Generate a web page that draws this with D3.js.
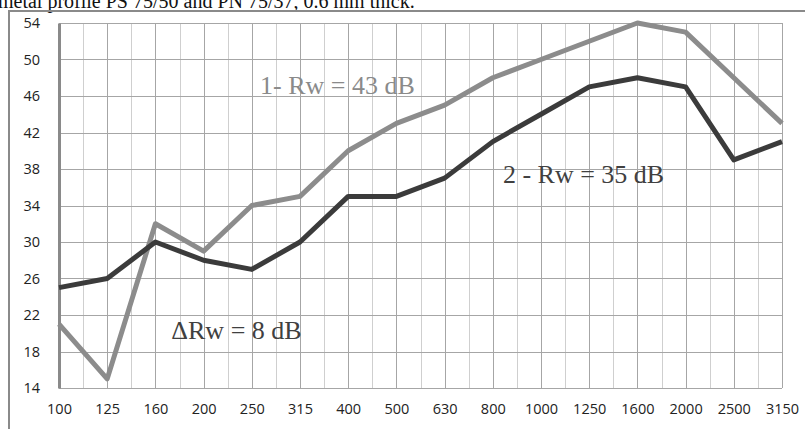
<!DOCTYPE html>
<html>
<head>
<meta charset="utf-8">
<script src="https://cdn.jsdelivr.net/npm/d3@7"></script>
<style>
  html, body { margin: 0; padding: 0; background: #fff; overflow: hidden; }
  svg { display: block; }
</style>
</head>
<body>
<svg id="chart" width="805" height="429"></svg>
<script>
// Third-octave band centre frequencies, Hz
const frequencies = ["100", "125", "160", "200", "250", "315", "400", "500", "630",
  "800", "1000", "1250", "1600", "2000", "2500", "3150"];
// Sound reduction index R, dB
const wall1 = [21, 15, 32, 29, 34, 35, 40, 43, 45, 48, 50, 52, 54, 53, 48, 43];
const wall2 = [25, 26, 30, 28, 27, 30, 35, 35, 37, 41, 44, 47, 48, 47, 39, 41];
const yTicks = [14, 18, 22, 26, 30, 34, 38, 42, 46, 50, 54];
const captionText = "metal profile PS 75/50 and PN 75/37, 0.6 mm thick.";
const labels = [
  { text: "1- Rw = 43 dB", freq: "250", x0: 0.17, value: 46.2, color: "#8a8a8a" },
  { text: "2 - Rw = 35 dB", freq: "1000", x0: -0.79, value: 36.5, color: "#404040" },
  { text: "ΔRw = 8 dB", freq: "125", x0: 1.33, value: 19.4, color: "#404040" }
];

const svg = d3.select("#chart");
const plot = { left: 59, right: 782, top: 23, bottom: 388 };

const x = d3.scalePoint().domain(frequencies).range([plot.left, plot.right]);
const y = d3.scaleLinear().domain([14, 54]).range([plot.bottom, plot.top]);
const step = x.step();

// Caption running off the top edge
svg.append("text")
  .attr("x", -2).attr("y", 8)
  .attr("font-family", "Liberation Serif, Times New Roman, serif")
  .attr("font-size", 20)
  .attr("fill", "#111")
  .text(captionText);

// Chart frame (top and left edges visible)
svg.append("path")
  .attr("d", "M9,429 L9,11 L805,11")
  .attr("fill", "none")
  .attr("stroke", "#8a8a8a")
  .attr("stroke-width", 2);

// Minor vertical gridlines between categories
svg.append("g")
  .selectAll("line")
  .data(frequencies.slice(1))
  .join("line")
  .attr("x1", d => Math.round(x(d) - step / 2) + 0.5)
  .attr("x2", d => Math.round(x(d) - step / 2) + 0.5)
  .attr("y1", plot.top).attr("y2", plot.bottom)
  .attr("stroke", "#cfcfcf").attr("stroke-width", 1);

// Major vertical gridlines on the categories
svg.append("g")
  .selectAll("line")
  .data(frequencies.slice(1))
  .join("line")
  .attr("x1", d => Math.round(x(d)) + 0.5)
  .attr("x2", d => Math.round(x(d)) + 0.5)
  .attr("y1", plot.top).attr("y2", plot.bottom)
  .attr("stroke", "#a6a6a6").attr("stroke-width", 1);

// Horizontal gridlines
svg.append("g")
  .selectAll("line")
  .data(yTicks)
  .join("line")
  .attr("x1", plot.left).attr("x2", plot.right)
  .attr("y1", d => Math.round(y(d)) + 0.5)
  .attr("y2", d => Math.round(y(d)) + 0.5)
  .attr("stroke", "#a6a6a6").attr("stroke-width", 1);

// Y axis
const yAxis = svg.append("g")
  .attr("transform", `translate(${plot.left},0)`)
  .call(d3.axisLeft(y).tickValues(yTicks).tickSize(0).tickPadding(19));
yAxis.select(".domain")
  .attr("stroke", "#8a8a8a").attr("stroke-width", 3);
yAxis.selectAll("text")
  .attr("font-family", "Open Sans, sans-serif")
  .attr("font-size", 14.5)
  .attr("fill", "#222");

// X axis
const xAxis = svg.append("g")
  .attr("transform", `translate(0,${plot.bottom})`)
  .call(d3.axisBottom(x).tickSize(0).tickPadding(16));
xAxis.select(".domain").remove();
xAxis.selectAll("text")
  .attr("font-family", "Open Sans, sans-serif")
  .attr("font-size", 14.5)
  .attr("fill", "#222");

// Series lines
const line = d3.line()
  .x((d, i) => x(frequencies[i]))
  .y(d => y(d));

svg.append("path")
  .datum(wall1)
  .attr("d", line)
  .attr("fill", "none")
  .attr("stroke", "#8c8c8c")
  .attr("stroke-width", 5)
  .attr("stroke-linejoin", "round");

svg.append("path")
  .datum(wall2)
  .attr("d", line)
  .attr("fill", "none")
  .attr("stroke", "#3b3b3b")
  .attr("stroke-width", 5)
  .attr("stroke-linejoin", "round");

// Annotations
svg.append("g")
  .selectAll("text")
  .data(labels)
  .join("text")
  .attr("x", d => x(d.freq) + d.x0 * step)
  .attr("y", d => y(d.value))
  .attr("font-family", "Liberation Serif, Times New Roman, serif")
  .attr("font-size", 26)
  .attr("fill", d => d.color)
  .text(d => d.text);
</script>
</body>
</html>
